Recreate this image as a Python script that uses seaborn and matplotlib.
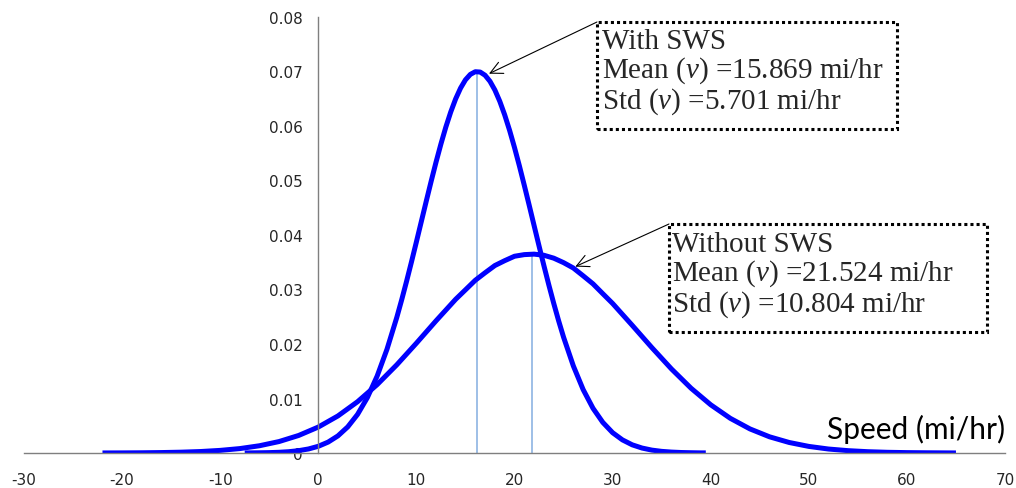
import numpy as np
import pandas as pd
import matplotlib
matplotlib.use("Agg")
import matplotlib.pyplot as plt
import seaborn as sns
from matplotlib.ticker import FuncFormatter
from matplotlib.patches import Rectangle

# density, with SWS (narrow curve)
x_with = [-7.5, -7, -6, -5, -4, -3, -2, -1, 0, 1, 2, 3, 4, 5, 6, 7, 8, 8.5,
          9, 9.5, 10, 10.5, 11, 11.5, 12, 12.5, 13, 13.5, 14, 14.5, 15, 15.5,
          16, 16.5, 17, 17.5, 18, 18.5, 19, 19.5, 20, 20.5, 21, 21.5, 22,
          22.5, 23, 23.5, 24, 24.5, 25, 26, 27, 28, 29, 30, 31, 32, 33, 34,
          35, 36, 37, 38, 39, 39.5]
y_with = [0.00001, 0.00002, 0.00004, 0.00007, 0.00013, 0.00024, 0.00043,
          0.00074, 0.00123, 0.00200, 0.00314, 0.00479, 0.00708, 0.01016,
          0.01412, 0.01903, 0.02487, 0.02811, 0.03152, 0.03508, 0.03874,
          0.04246, 0.04617, 0.04983, 0.05336, 0.05670, 0.05980, 0.06257,
          0.06497, 0.06695, 0.06847, 0.06947, 0.06996, 0.06990, 0.06931,
          0.06820, 0.06660, 0.06453, 0.06204, 0.05920, 0.05605, 0.05267,
          0.04910, 0.04544, 0.04171, 0.03800, 0.03436, 0.03083, 0.02745,
          0.02425, 0.02126, 0.01597, 0.01163, 0.00821, 0.00562, 0.00373,
          0.00241, 0.00150, 0.00091, 0.00053, 0.00030, 0.00017, 0.00009,
          0.00005, 0.00002, 0.00002]

# density, without SWS (wide curve)
x_without = [-22, -20, -18, -16, -14, -12, -10, -8, -6, -4, -2, 0, 2, 4, 6, 8,
             10, 12, 14, 15, 16, 17, 18, 19, 20, 21, 22, 23, 24, 25, 26, 27,
             28, 29, 30, 32, 34, 36, 38, 40, 42, 44, 46, 48, 50, 52, 54, 56,
             58, 60, 62, 64, 65]
y_without = [0.00001, 0.00002, 0.00004, 0.00008, 0.00015, 0.00027, 0.00048,
             0.00081, 0.00133, 0.00210, 0.00322, 0.00476, 0.00680, 0.00941,
             0.01255, 0.01618, 0.02015, 0.02425, 0.02820, 0.02994, 0.03169,
             0.03307, 0.03440, 0.03529, 0.03610, 0.03640, 0.03649, 0.03628,
             0.03575, 0.03493, 0.03394, 0.03251, 0.03104, 0.02923, 0.02744,
             0.02343, 0.01934, 0.01542, 0.01188, 0.00885, 0.00636, 0.00442,
             0.00297, 0.00193, 0.00121, 0.00073, 0.00043, 0.00024, 0.00013,
             0.00007, 0.00004, 0.00002, 0.00001]

# peak markers (vertical lines)
peak_x = [16.2, 21.8]
peak_y = [0.0700, 0.0365]

labels = [
    "With SWS\nMean ($\\mathit{v}$) =15.869 mi/hr\nStd ($\\mathit{v}$) =5.701 mi/hr",
    "Without SWS\nMean ($\\mathit{v}$) =21.524 mi/hr\nStd ($\\mathit{v}$) =10.804 mi/hr",
]
arrow_to = [(17.4, 0.0696), (26.2, 0.0342)]

x_ticks = list(range(-30, 71, 10))
y_ticks = [0, 0.01, 0.02, 0.03, 0.04, 0.05, 0.06, 0.07, 0.08]

sns.set_style("white")
plt.rcParams["font.family"] = ["DejaVu Sans"]
plt.rcParams["axes.unicode_minus"] = False
plt.rcParams["mathtext.fontset"] = "custom"
plt.rcParams["mathtext.rm"] = "Liberation Serif"
plt.rcParams["mathtext.it"] = "Liberation Serif:italic"

W, H = 1016, 489
fig = plt.figure(figsize=(W / 100, H / 100), dpi=100)
ax = fig.add_axes([24 / W, 1 - 454 / H, 981 / W, 436 / H])

df_with = pd.DataFrame({"speed": x_with, "density": y_with})
df_without = pd.DataFrame({"speed": x_without, "density": y_without})

ax.vlines(peak_x, 0, peak_y, color="#8eb4e3", linewidth=1.2, zorder=1)
for df in [df_without, df_with]:
    sns.lineplot(data=df, x="speed", y="density", ax=ax, color="#0000ff",
                 linewidth=3.6, sort=False, zorder=2,
                 solid_joinstyle="round", solid_capstyle="butt")

ax.set_xlim(-30, 70)
ax.set_ylim(0, 0.08)
ax.set_xticks(x_ticks)
ax.set_yticks(y_ticks)
ax.yaxis.set_major_formatter(FuncFormatter(lambda v, p: "%g" % round(v, 2)))
ax.set_xlabel("")
ax.set_ylabel("")

for s in ["top", "right"]:
    ax.spines[s].set_visible(False)
ax.spines["left"].set_position(("data", 0))
for s in ["left", "bottom"]:
    ax.spines[s].set_color("#7f7f7f")
    ax.spines[s].set_linewidth(1.0)
ax.tick_params(axis="x", direction="out", length=3, width=1, color="#7f7f7f",
               labelsize=11, labelcolor="#262626", pad=11)
ax.tick_params(axis="y", direction="out", length=4, width=1, color="#7f7f7f",
               labelsize=11, labelcolor="#262626", pad=7)

fig.text(1005 / W, 1 - 429 / H, "Speed (mi/hr)", ha="right", va="center",
         fontsize=21.5, family=["Lato", "DejaVu Sans"], color="black")

# dotted label boxes (left, top, right, bottom in figure pixels from top)
boxes = [(597, 23, 897, 130), (669, 225, 987, 333)]
text_pos = [(602, 29), (672, 232)]
for lab, xy, (l, t, r, b), (tx, ty) in zip(labels, arrow_to, boxes, text_pos):
    fig.patches.append(Rectangle((l / W, 1 - b / H), (r - l) / W, (b - t) / H,
                                 transform=fig.transFigure, fc="white",
                                 ec="black", lw=2.2, ls=(0, (1, 1)),
                                 zorder=4))
    fig.text(tx / W, 1 - ty / H, lab, ha="left", va="top", fontsize=21,
             family=["Liberation Serif"], linespacing=1.02, zorder=5)
    ax.annotate("", xy=xy, xycoords="data", xytext=(l, H - t),
                textcoords="figure pixels",
                arrowprops=dict(arrowstyle="->", color="black", lw=0.8,
                                shrinkA=0, shrinkB=0, mutation_scale=22))

fig.savefig("out.png", dpi=100)
